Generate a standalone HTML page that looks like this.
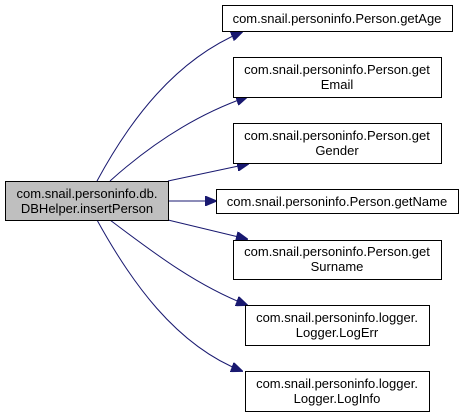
<!DOCTYPE html>
<html><head><style>body{margin:0;background:#fff}svg{display:block}text{font-family:"Liberation Sans",Arial,sans-serif;font-size:13px;fill:#000}</style></head><body>
<svg width="464" height="417" viewBox="0 0 464 417" xmlns="http://www.w3.org/2000/svg">
<defs><marker id="a" markerWidth="12" markerHeight="10" refX="11" refY="5" orient="auto" markerUnits="userSpaceOnUse"><path d="M0,0 L12,5 L0,10 Z" fill="#191970" stroke="#191970"/></marker></defs>
<g fill="none" stroke="#191970" stroke-width="1">
<path d="M97,181 C130,120 175,60 242,32" marker-end="url(#a)"/>
<path d="M110,181 C150,145 195,115 247,97" marker-end="url(#a)"/>
<path d="M168,181 L248,164" marker-end="url(#a)"/>
<path d="M168,201 L216,201" marker-end="url(#a)"/>
<path d="M168,220 L247,239" marker-end="url(#a)"/>
<path d="M110,220 C150,250 195,285 247,305" marker-end="url(#a)"/>
<path d="M97,220 C130,280 175,345 242,371" marker-end="url(#a)"/>
</g>
<g stroke="#000" stroke-width="1">
<rect x="5.5" y="181.5" width="163" height="39" fill="#bfbfbf"/>
<rect x="222.5" y="5.5" width="230" height="26" fill="#fff"/>
<rect x="233.5" y="57.5" width="208" height="40" fill="#fff"/>
<rect x="233.5" y="123.5" width="208" height="40" fill="#fff"/>
<rect x="216.5" y="189.5" width="242" height="24" fill="#fff"/>
<rect x="233.5" y="240.5" width="208" height="39" fill="#fff"/>
<rect x="245.5" y="305.5" width="184" height="40" fill="#fff"/>
<rect x="245.5" y="371.5" width="184" height="40" fill="#fff"/>
</g>
<g text-anchor="middle">
<text x="87" y="198">com.snail.personinfo.db.</text><text x="87" y="213">DBHelper.insertPerson</text>
<text x="337" y="23">com.snail.personinfo.Person.getAge</text>
<text x="337" y="74">com.snail.personinfo.Person.get</text><text x="337" y="89">Email</text>
<text x="337" y="140">com.snail.personinfo.Person.get</text><text x="337" y="155">Gender</text>
<text x="337" y="206">com.snail.personinfo.Person.getName</text>
<text x="337" y="256">com.snail.personinfo.Person.get</text><text x="337" y="271">Surname</text>
<text x="337" y="322">com.snail.personinfo.logger.</text><text x="337" y="337">Logger.LogErr</text>
<text x="337" y="388">com.snail.personinfo.logger.</text><text x="337" y="403">Logger.LogInfo</text>
</g>
</svg>
</body></html>
